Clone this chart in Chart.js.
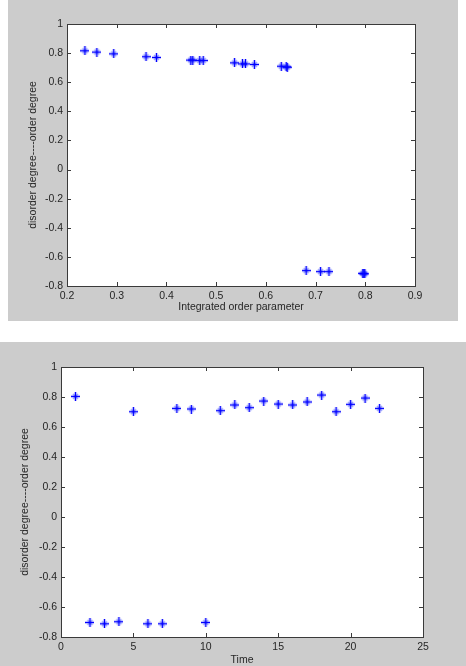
<!DOCTYPE html>
<html>
<head>
<meta charset="utf-8">
<script src="https://cdn.jsdelivr.net/npm/chart.js@4"></script>
<style>
  body { margin: 0; background: #fff; width: 466px; height: 666px; position: relative; overflow: hidden; }
  .panel { position: absolute; background: #cccccc; }
  #p1 { left: 8px; top: 0; width: 450px; height: 321px; }
  #p2 { left: 0; top: 342px; width: 466px; height: 324px; }
  canvas { display: block; }
</style>
</head>
<body>
<div class="panel" id="p1"><canvas id="c1" width="450" height="321"></canvas></div>
<div class="panel" id="p2"><canvas id="c2" width="466" height="324"></canvas></div>
<script>
// top plot: integrated order parameter vs degree
const orderParam = [0.236, 0.260, 0.294, 0.359, 0.380, 0.449, 0.453, 0.467, 0.474, 0.537, 0.553,
                    0.559, 0.577, 0.631, 0.641, 0.643, 0.681, 0.710, 0.727, 0.795, 0.797, 0.799];
const degreeTop = [0.816, 0.807, 0.795, 0.775, 0.770, 0.752, 0.752, 0.749, 0.749, 0.733, 0.726,
                   0.726, 0.722, 0.710, 0.706, 0.703, -0.694, -0.701, -0.701, -0.713, -0.715, -0.716];

// bottom plot: time vs degree
const timeSteps = [1, 2, 3, 4, 5, 6, 7, 8, 9, 10, 11, 12, 13, 14, 15, 16, 17, 18, 19, 20, 21, 22];
const degreeTime = [0.804, -0.703, -0.712, -0.698, 0.702, -0.712, -0.712, 0.724, 0.720, -0.703, 0.709,
                    0.747, 0.729, 0.773, 0.753, 0.747, 0.767, 0.813, 0.702, 0.751, 0.793, 0.724];

const Y_LABEL = 'disorder degree----order degree';
const TXT = '#262626';
const AX = '#3a3a3a';
const FONT = { family: 'Liberation Sans, Arial, sans-serif', size: 10.5 };

// matlab '*' marker: strong plus, faint diagonals
function starMarker() {
  const m = document.createElement('canvas');
  m.width = 9; m.height = 9;
  const c = m.getContext('2d');
  c.strokeStyle = 'rgba(40,60,255,0.45)';
  c.lineWidth = 1.6;
  c.beginPath();
  c.moveTo(2, 2); c.lineTo(7, 7);
  c.moveTo(7, 2); c.lineTo(2, 7);
  c.stroke();
  c.strokeStyle = '#0000ff';
  c.lineWidth = 1.5;
  c.beginPath();
  c.moveTo(4.5, 0); c.lineTo(4.5, 9);
  c.moveTo(0, 4.5); c.lineTo(9, 4.5);
  c.stroke();
  return m;
}
const MARK = starMarker();

// white plot area + box with inward ticks on all four sides (matlab style)
const frame = {
  id: 'frame',
  beforeDatasetsDraw(chart) {
    const a = chart.chartArea, c = chart.ctx;
    c.save();
    c.fillStyle = '#fff';
    c.fillRect(a.left, a.top, a.right - a.left, a.bottom - a.top);
    c.restore();
  },
  afterDraw(chart) {
    const a = chart.chartArea, c = chart.ctx;
    const xs = chart.scales.x, ys = chart.scales.y;
    const L = 4;
    c.save();
    c.strokeStyle = AX;
    c.lineWidth = 1;
    c.beginPath();
    xs.ticks.forEach(t => {
      const p = Math.round(xs.getPixelForValue(t.value)) + 0.5;
      c.moveTo(p, a.bottom); c.lineTo(p, a.bottom - L);
      c.moveTo(p, a.top); c.lineTo(p, a.top + L);
    });
    ys.ticks.forEach(t => {
      const p = Math.round(ys.getPixelForValue(t.value)) + 0.5;
      c.moveTo(a.left, p); c.lineTo(a.left + L, p);
      c.moveTo(a.right, p); c.lineTo(a.right - L, p);
    });
    c.stroke();
    c.strokeRect(Math.round(a.left) + 0.5, Math.round(a.top) + 0.5,
                 Math.round(a.right - a.left), Math.round(a.bottom - a.top));
    c.restore();
  }
};

function makeChart(id, xs, ys, o) {
  return new Chart(document.getElementById(id), {
    type: 'scatter',
    data: {
      datasets: [{
        data: xs.map((x, i) => ({ x: x, y: ys[i] })),
        pointStyle: MARK,
        pointRadius: 4.5,
        borderColor: '#0000ff',
        backgroundColor: '#0000ff'
      }]
    },
    options: {
      responsive: false,
      animation: false,
      layout: { padding: { left: 0, top: o.top, right: o.right, bottom: 0 } },
      plugins: { legend: { display: false }, tooltip: { enabled: false } },
      scales: {
        x: {
          type: 'linear',
          min: o.xMin, max: o.xMax,
          grid: { display: false, drawTicks: false },
          border: { display: false },
          ticks: { stepSize: o.xStep, padding: 4, color: TXT, font: FONT,
                   maxRotation: 0, autoSkip: false,
                   callback: v => String(+v.toFixed(2)) },
          title: { display: true, text: o.xTitle, color: TXT, font: FONT,
                   padding: { top: 0, bottom: o.titlePad } },
          afterFit: s => { s.height = o.xHeight; }
        },
        y: {
          min: -0.8, max: 1,
          grid: { display: false, drawTicks: false },
          border: { display: false },
          ticks: { stepSize: 0.2, padding: 4, color: TXT, font: FONT, autoSkip: false,
                   callback: v => String(+v.toFixed(1)) },
          title: { display: true, text: Y_LABEL, color: TXT, font: FONT,
                   padding: { top: 19, bottom: 0 } },
          afterFit: s => { s.width = o.yWidth; }
        }
      }
    },
    plugins: [frame]
  });
}

makeChart('c1', orderParam, degreeTop, {
  xMin: 0.2, xMax: 0.9, xStep: 0.1, xTitle: 'Integrated order parameter',
  top: 24, right: 43, yWidth: 59, xHeight: 35, titlePad: 8
});

makeChart('c2', timeSteps, degreeTime, {
  xMin: 0, xMax: 25, xStep: 5, xTitle: 'Time',
  top: 25, right: 43, yWidth: 61, xHeight: 29, titlePad: 0
});
</script>
</body>
</html>
